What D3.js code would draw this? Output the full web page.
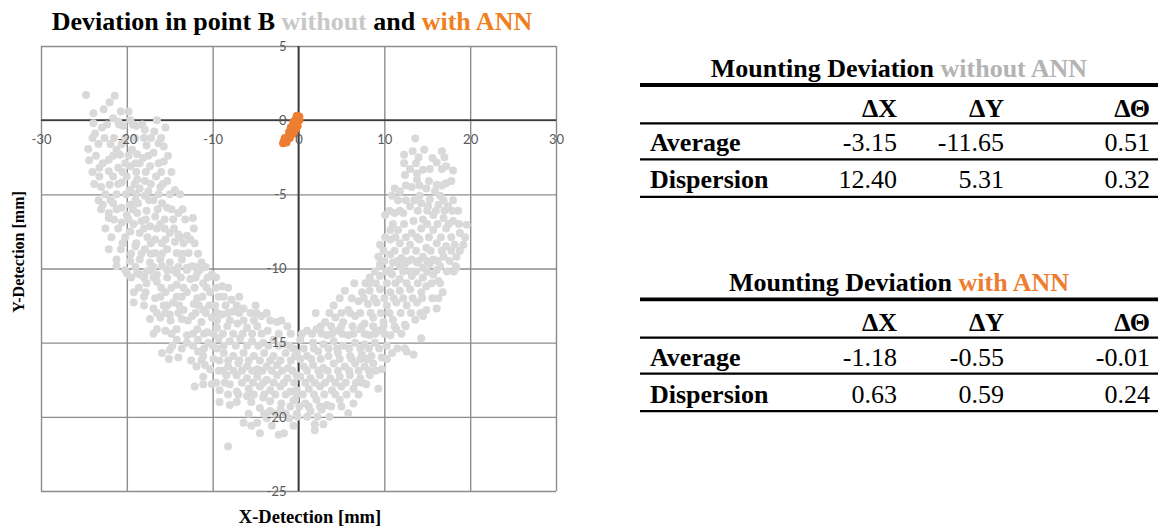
<!DOCTYPE html>
<html>
<head>
<meta charset="utf-8">
<script src="https://cdn.jsdelivr.net/npm/d3@7"></script>
<style>
  body { margin: 0; background: #fff; }
  svg { display: block; }
</style>
</head>
<body>
<svg id="chart" width="1158" height="530"></svg>
<script>
// Measured deviations in point B [mm], without the ANN correction
const withoutAnn = [
  [-24.75,1.7],[-21.4,1.64],[-22.0,1.2],[-23.9,0.47],[-22.7,0.74],[-20.7,0.58],[-19.8,0.58],[-21.6,0.13],
  [-21.0,-0.09],[-23.9,-0.2],[-22.9,-0.5],[-20.4,-0.4],[-19.6,0.0],[-16.5,0.0],[-18.9,-0.4],[-17.9,-0.65],
  [-16.8,-0.76],[-15.5,-0.5],[-23.7,-0.9],[-24.5,-1.95],[-21.2,-2.0],[-19.4,-2.0],[-17.7,-1.7],[-16.3,-1.55],
  [-15.7,-1.77],[-24.4,-2.7],[-22.1,-2.67],[-20.8,-2.33],[-18.8,-2.3],[-18.1,-2.55],[-16.9,-2.2],[-23.2,-3.2],
  [-22.1,-3.45],[-21.0,-3.2],[-19.6,-3.1],[-18.5,-2.9],[-17.3,-3.1],[-16.3,-2.9],[-15.7,-2.78],[-23.2,-3.8],
  [-21.6,-3.8],[-20.0,-3.8],[-18.8,-4.0],[-17.9,-4.1],[-16.6,-3.8],[-15.3,-4.1],[-23.0,-4.5],[-22.0,-4.35],
  [-20.6,-4.2],[-19.6,-4.7],[-18.5,-4.6],[-17.5,-4.8],[-16.1,-4.5],[-14.4,-4.7],[-22.8,-5.7],[-21.6,-5.6],
  [-20.6,-5.9],[-19.6,-5.7],[-18.7,-5.6],[-17.9,-5.1],[-16.9,-5.4],[-15.9,-5.6],[-15.3,-5.9],[-22.1,-6.25],
  [-20.0,-6.4],[-18.8,-6.25],[-17.7,-6.1],[-16.7,-6.5],[-14.0,-6.25],[-12.3,-6.6],[-22.1,-6.6],[-20.6,-6.9],
  [-19.2,-7.0],[-18.3,-6.8],[-17.3,-7.15],[-16.1,-7.0],[-15.0,-7.6],[-14.0,-7.7],[-13.0,-7.8],[-12.6,-8.05],
  [-19.6,-7.5],[-18.5,-7.6],[-16.7,-8.05],[-15.5,-8.05],[-14.4,-8.2],[-13.4,-8.3],[-22.1,-8.7],[-20.7,-8.7],
  [-19.0,-8.5],[-17.9,-8.7],[-16.7,-8.95],[-15.3,-8.7],[-14.2,-8.95],[-12.8,-8.95],[-21.2,-9.4],[-19.6,-9.5],
  [-18.5,-9.4],[-17.3,-9.6],[-16.1,-9.4],[-15.0,-9.6],[-13.6,-9.4],[-12.4,-9.85],[-11.3,-9.6],[-20.2,-10.1],
  [-18.8,-10.3],[-17.7,-10.2],[-16.5,-10.4],[-15.3,-10.1],[-14.2,-10.3],[-13.0,-10.1],[-11.8,-10.3],[-10.1,-10.4],
  [-21.2,-9.85],[-20.0,-10.3],[-18.5,-10.4],[-17.3,-10.1],[-15.9,-9.85],[-14.6,-10.1],[-13.0,-9.95],[-11.5,-10.1],
  [-10.1,-10.5],[-17.7,-11.0],[-16.5,-10.9],[-15.3,-10.6],[-14.2,-11.1],[-12.6,-10.7],[-11.1,-11.0],[-19.2,-11.6],
  [-19.2,-12.3],[-17.8,-11.6],[-16.7,-12.0],[-15.5,-11.6],[-14.2,-11.9],[-13.0,-11.6],[-11.8,-12.0],[-10.3,-11.6],
  [-8.9,-11.2],[-8.7,-11.9],[-7.8,-12.1],[-16.9,-12.7],[-15.7,-12.5],[-14.6,-12.3],[-13.4,-12.8],[-12.2,-12.4],
  [-11.1,-12.8],[-9.7,-12.5],[-17.3,-13.4],[-16.1,-13.3],[-15.0,-13.1],[-13.6,-13.4],[-12.4,-13.2],[-11.3,-13.6],
  [-10.1,-13.3],[-8.9,-13.1],[-7.6,-12.9],[-6.4,-12.7],[-5.6,-13.0],[-4.3,-13.2],[-3.7,-13.0],[-2.5,-13.6],
  [-1.3,-13.9],[-16.5,-14.1],[-15.5,-14.2],[-14.2,-14.1],[-13.0,-14.5],[-11.8,-14.1],[-10.6,-14.3],[-9.5,-14.0],
  [-8.3,-13.9],[-7.1,-13.7],[-6.0,-14.0],[-4.8,-13.9],[-3.6,-14.2],[-14.2,-14.8],[-13.0,-15.0],[-11.7,-14.8],
  [-10.5,-15.0],[-9.3,-14.7],[-8.0,-14.9],[-6.8,-14.7],[-5.4,-14.9],[-4.1,-15.0],[-2.9,-14.8],[-1.7,-15.1],
  [-0.6,-15.4],[-15.9,-15.7],[-15.0,-15.5],[-15.1,-16.1],[-14.0,-16.0],[-11.7,-15.6],[-11.1,-15.9],[-9.9,-16.1],
  [-8.7,-15.7],[-7.6,-15.9],[-6.4,-15.7],[-5.2,-15.9],[-4.0,-15.7],[-2.9,-15.9],[-1.5,-15.7],[-0.4,-15.9],
  [-11.9,-16.6],[-10.9,-16.5],[-10.3,-16.8],[-8.2,-16.6],[-7.0,-16.4],[-6.0,-16.6],[-4.8,-16.8],[-3.7,-16.6],
  [-2.5,-16.5],[-1.2,-16.7],[-11.1,-17.3],[-8.4,-17.2],[-7.2,-17.2],[-6.0,-17.4],[-4.8,-17.3],[-3.7,-17.5],
  [-2.5,-17.2],[-1.3,-17.4],[-0.2,-17.2],[-12.1,-17.95],[-11.1,-17.8],[-10.1,-17.8],[-9.2,-18.2],[-8.0,-17.8],
  [-7.2,-18.3],[-5.8,-18.1],[-4.5,-17.95],[-3.3,-18.2],[-2.1,-17.95],[-0.95,-18.3],[-8.2,-18.5],[-8.0,-19.2],
  [-6.0,-18.6],[-4.1,-18.7],[-3.3,-18.95],[-2.0,-19.1],[-0.6,-18.9],[-4.5,-19.4],[-3.3,-19.6],[-2.1,-19.5],
  [-0.95,-19.3],[-3.7,-20.1],[-6.4,-20.4],[-4.8,-20.4],[-1.1,-20.1],[-4.5,-21.1],[-2.3,-21.2],[-1.7,-21.1],
  [-8.2,-22.0],
  [13.6,-1.23],[12.3,-2.33],[13.3,-2.1],[14.65,-2.0],[16.7,-2.1],[12.3,-2.9],[13.7,-2.9],[15.6,-2.55],
  [16.1,-2.85],[17.2,-3.1],[18.0,-3.4],[12.4,-3.7],[13.8,-3.6],[14.5,-3.35],[13.8,-4.0],[15.2,-4.1],
  [16.1,-4.35],[17.2,-4.25],[17.8,-4.1],[11.2,-4.6],[11.8,-4.8],[13.2,-4.5],[14.9,-4.6],[15.9,-4.8],
  [10.9,-5.1],[14.1,-5.1],[15.3,-5.35],[16.5,-5.1],[13.0,-5.8],[14.3,-5.6],[15.1,-5.8],[16.3,-5.7],
  [17.4,-5.8],[18.6,-6.1],[10.1,-6.4],[11.2,-6.25],[12.2,-6.25],[13.4,-6.8],[14.5,-6.7],[15.7,-6.4],
  [16.9,-6.6],[18.0,-6.8],[19.6,-7.05],[10.7,-7.4],[11.6,-7.4],[13.2,-7.6],[14.3,-7.3],[15.7,-7.4],
  [17.2,-7.3],[18.8,-7.6],[9.5,-8.4],[10.7,-8.05],[11.8,-8.3],[13.0,-8.4],[14.1,-8.05],[14.9,-8.6],
  [16.1,-8.3],[17.2,-8.5],[18.2,-8.4],[19.2,-8.4],[9.3,-9.2],[10.7,-9.05],[12.0,-9.3],[13.2,-9.4],
  [14.5,-9.2],[15.7,-9.4],[16.9,-9.2],[18.4,-9.2],[9.5,-9.85],[10.7,-10.1],[11.8,-9.85],[13.0,-10.2],
  [14.5,-9.95],[16.1,-10.1],[18.4,-9.95],[8.3,-10.6],
  [9.5,-9.7],[11.0,-9.6],[12.4,-9.7],[13.8,-9.6],[15.3,-9.7],[16.5,-9.85],[18.3,-9.85],[9.5,-10.5],
  [10.9,-10.4],[11.8,-10.7],[13.2,-10.5],[14.5,-10.6],[15.7,-10.4],[16.3,-10.85],[8.3,-10.97],[7.4,-11.6],
  [8.3,-11.5],[9.5,-11.4],[10.7,-11.6],[11.8,-11.5],[13.0,-11.4],[14.3,-11.6],[14.9,-11.2],[16.8,-11.6],
  [5.4,-11.5],[4.1,-12.5],[5.8,-12.8],[7.0,-12.2],[8.1,-12.4],[9.1,-12.3],[10.3,-12.5],[11.4,-12.3],
  [12.6,-12.5],[13.8,-12.3],[14.9,-12.8],[16.1,-12.7],[3.1,-13.6],[4.3,-13.3],[5.2,-13.6],[6.6,-13.2],
  [7.7,-13.7],[8.7,-13.3],[9.9,-13.6],[11.0,-13.45],[12.4,-13.8],[13.6,-13.45],[14.5,-13.2],[1.0,-14.2],
  [2.1,-14.1],[3.3,-14.5],[4.6,-14.2],[5.8,-14.5],[7.2,-14.1],[8.3,-14.5],[9.3,-14.2],[10.7,-14.5],
  [11.4,-14.1],[14.3,-14.7],[0.2,-14.8],[1.7,-15.0],[2.9,-15.1],[4.1,-14.9],[5.2,-15.2],[6.6,-15.0],
  [7.7,-15.1],[8.9,-15.0],[10.3,-15.2],[12.4,-15.4],[13.4,-15.8],[12.6,-15.6],[-0.2,-15.7],[1.0,-15.9],
  [2.3,-15.6],[3.5,-15.9],[4.6,-15.7],[6.0,-15.9],[7.4,-15.8],[8.5,-15.9],[9.7,-16.0],[10.9,-15.7],
  [0.6,-16.6],[1.7,-16.5],[2.9,-16.7],[4.1,-16.4],[5.4,-16.6],[6.6,-16.4],[7.7,-16.6],[8.7,-16.4],
  [9.7,-16.8],[0.2,-17.3],[1.4,-17.4],[2.5,-17.2],[3.7,-17.4],[4.8,-17.3],[6.0,-17.2],[7.2,-17.4],
  [8.3,-17.2],[9.3,-18.1],[-0.2,-18.2],[1.2,-18.1],[2.5,-17.95],[3.9,-18.2],[5.0,-17.95],[6.4,-18.1],
  [7.9,-17.8],[-0.4,-18.85],[0.8,-19.1],[2.1,-18.85],[3.3,-19.2],[4.8,-18.85],[6.4,-19.1],[1.4,-19.6],
  [2.7,-19.5],[5.8,-19.75],[1.9,-20.5],[2.9,-20.5],[1.9,-20.9],
  // left arm, denser core
  [-22.3,-0.3],[-20.9,-0.3],[-19.3,-0.3],[-18.2,-0.3],
  [-24.0,-1.2],[-22.6,-1.2],[-21.5,-1.2],[-20.2,-1.2],[-19.0,-1.2],[-18.0,-1.2],[-17.2,-1.2],[-16.0,-1.2],
  [-23.3,-1.6],[-21.9,-1.6],[-20.6,-1.6],
  [-23.6,-2.4],[-21.6,-2.4],[-19.8,-2.4],[-17.5,-2.4],[-15.2,-2.4],
  [-22.8,-2.9],[-20.2,-2.9],[-19.0,-2.9],
  [-24.0,-3.5],[-20.5,-3.5],[-18.9,-3.5],[-17.8,-3.5],[-16.0,-3.5],[-14.8,-3.5],
  [-23.8,-4.3],[-21.0,-4.3],[-19.1,-4.3],[-17.2,-4.3],[-15.8,-4.3],
  [-22.5,-5.0],[-21.2,-5.0],[-20.1,-5.0],[-18.9,-5.0],[-16.3,-5.0],[-15.0,-5.0],[-13.8,-5.0],
  [-23.3,-5.4],[-21.9,-5.4],[-19.0,-5.4],[-17.4,-5.4],
  [-23.0,-6.0],[-21.2,-6.0],[-19.3,-6.0],[-16.4,-6.0],[-14.8,-6.0],[-13.5,-6.0],
  [-21.5,-6.7],[-19.8,-6.7],[-17.8,-6.7],[-15.6,-6.7],[-14.6,-6.7],[-13.2,-6.7],
  [-22.5,-7.3],[-21.0,-7.3],[-18.0,-7.3],[-16.5,-7.3],[-15.6,-7.3],[-14.5,-7.3],[-12.2,-7.3],
  [-21.8,-7.9],[-20.2,-7.9],[-17.6,-7.9],[-13.8,-7.9],
  [-20.5,-8.3],[-18.9,-8.3],[-17.2,-8.3],[-15.9,-8.3],[-12.1,-8.3],
  [-19.5,-9.0],[-18.3,-9.0],[-17.2,-9.0],[-15.9,-9.0],[-13.5,-9.0],[-11.7,-9.0],
  [-19.0,-9.9],[-16.9,-9.9],[-14.0,-9.9],[-12.0,-9.9],[-10.8,-9.9],
  [-19.5,-10.6],[-18.0,-10.6],[-16.9,-10.6],[-13.7,-10.6],[-12.0,-10.6],[-10.6,-10.6],[-9.6,-10.6],
  [-18.6,-11.3],[-16.0,-11.3],[-14.8,-11.3],[-13.4,-11.3],[-12.1,-11.3],[-10.7,-11.3],[-9.6,-11.3],[-8.2,-11.3],
  [-18.0,-11.9],[-16.1,-11.9],[-13.6,-11.9],[-11.2,-11.9],[-9.3,-11.9],[-6.9,-11.9],
  [-18.0,-12.5],[-15.3,-12.5],[-13.9,-12.5],[-11.6,-12.5],[-10.4,-12.5],[-8.5,-12.5],[-7.2,-12.5],[-5.0,-12.5],
  [-16.5,-13.0],[-15.5,-13.0],[-14.0,-13.0],[-12.0,-13.0],[-10.8,-13.0],[-9.5,-13.0],[-8.2,-13.0],[-6.9,-13.0],[-4.9,-13.0],
  [-14.9,-13.5],[-12.9,-13.5],[-9.5,-13.5],[-8.0,-13.5],[-6.4,-13.5],[-5.2,-13.5],[-3.3,-13.5],[-2.0,-13.5],
  [-16.9,-14.4],[-14.8,-14.4],[-12.3,-14.4],[-11.0,-14.4],[-9.9,-14.4],[-8.8,-14.4],[-7.6,-14.4],[-6.5,-14.4],
  [-5.4,-14.4],[-4.3,-14.4],[-2.3,-14.4],[-0.9,-14.4],
  [-14.7,-15.2],[-12.3,-15.2],[-10.0,-15.2],[-8.7,-15.2],[-7.3,-15.2],[-6.0,-15.2],[-4.7,-15.2],[-3.5,-15.2],
  [-2.3,-15.2],[-1.1,-15.2],[-13.6,-15.4],[-11.0,-15.4],[-9.5,-15.4],
  [-12.5,-16.2],[-11.3,-16.2],[-9.2,-16.2],[-8.2,-16.2],[-6.9,-16.2],[-5.8,-16.2],[-4.5,-16.2],[-3.3,-16.2],
  [-2.1,-16.2],[-0.9,-16.2],
  [-9.3,-16.9],[-8.8,-16.9],[-7.6,-16.9],[-6.6,-16.9],[-5.4,-16.9],[-4.2,-16.9],[-3.1,-16.9],[-1.9,-16.9],[-0.7,-16.9],
  [-9.6,-17.7],[-8.6,-17.7],[-6.6,-17.7],[-5.3,-17.7],[-4.1,-17.7],[-2.9,-17.7],[-1.7,-17.7],[-0.5,-17.7],
  [-7.0,-18.5],[-5.2,-18.5],[-4.0,-18.5],[-2.7,-18.5],[-1.5,-18.5],[-0.2,-18.5],
  [-9.2,-19.0],[-7.2,-19.0],[-5.5,-19.0],
  [-5.8,-19.8],[-4.0,-19.8],[-2.7,-19.8],[-1.5,-19.8],[-0.2,-19.8],
  [-5.5,-20.6],[-3.1,-20.6],[-0.6,-20.6],
  // bottom and right arm, denser core
  [0.4,-14.4],[1.6,-14.4],[2.7,-14.4],[3.9,-14.4],[5.1,-14.4],[6.4,-14.4],[7.7,-14.4],[8.9,-14.4],[10.0,-14.4],[12.0,-14.4],
  [0.6,-15.4],[1.8,-15.4],[3.5,-15.4],[4.5,-15.4],[5.9,-15.4],[7.2,-15.4],[8.2,-15.4],[9.4,-15.4],[11.5,-15.4],
  [0.2,-16.1],[1.5,-16.1],[2.6,-16.1],[4.8,-16.1],[6.2,-16.1],[7.2,-16.1],[8.0,-16.1],[10.3,-16.1],
  [1.0,-16.9],[2.3,-16.9],[3.4,-16.9],[4.6,-16.9],[5.9,-16.9],[7.0,-16.9],[8.2,-16.9],[9.0,-16.9],
  [0.8,-17.7],[1.9,-17.7],[3.1,-17.7],[4.3,-17.7],[5.5,-17.7],[6.7,-17.7],[7.4,-17.7],
  [0.5,-18.5],[1.8,-18.5],[3.0,-18.5],[4.3,-18.5],[5.6,-18.5],[7.0,-18.5],
  [0.1,-19.3],[1.2,-19.3],[2.5,-19.3],[3.8,-19.3],[5.0,-19.3],
  [-0.1,-20.0],[1.0,-20.0],[2.2,-20.0],[3.6,-20.0],
  [2.0,-13.0],[3.6,-13.0],[5.0,-13.0],[6.0,-13.0],[7.2,-13.0],[8.4,-13.0],[9.6,-13.0],[10.6,-13.0],[11.9,-13.0],[13.1,-13.0],[14.2,-13.0],
  [2.6,-13.9],[3.8,-13.9],[5.0,-13.9],[6.3,-13.9],[7.4,-13.9],[8.7,-13.9],[9.9,-13.9],[11.2,-13.9],[12.5,-13.9],
  [4.8,-12.0],[6.2,-12.0],[7.6,-12.0],[8.8,-12.0],[10.0,-12.0],[11.1,-12.0],[12.2,-12.0],[13.3,-12.0],[14.4,-12.0],[15.6,-12.0],[16.3,-12.0],
  [6.5,-11.0],[7.8,-11.0],[9.0,-11.0],[10.3,-11.0],[11.3,-11.0],[12.6,-11.0],[13.9,-11.0],[15.5,-11.0],[16.5,-11.0],
  [8.9,-10.2],[10.2,-10.2],[12.2,-10.2],[13.7,-10.2],[15.0,-10.2],[17.3,-10.2],[18.1,-10.2],
  [10.0,-9.5],[11.5,-9.5],[12.8,-9.5],[14.0,-9.5],[15.0,-9.5],[16.2,-9.5],[17.6,-9.5],
  [9.9,-8.8],[11.2,-8.8],[12.5,-8.8],[13.7,-8.8],[15.4,-8.8],[16.7,-8.8],[17.8,-8.8],[18.8,-8.8],
  [10.1,-7.9],[11.3,-7.9],[12.5,-7.9],[13.8,-7.9],[15.2,-7.9],[16.6,-7.9],[17.8,-7.9],[19.4,-7.9],
  [11.0,-7.0],[12.3,-7.0],[15.0,-7.0],[16.2,-7.0],[17.5,-7.0],[18.7,-7.0],
  [10.6,-6.1],[11.8,-6.1],[13.9,-6.1],[15.0,-6.1],[16.0,-6.1],[17.0,-6.1],[17.9,-6.1],
  [11.6,-5.4],[12.5,-5.4],[13.5,-5.4],[16.9,-5.4],[18.0,-5.4],
  [12.5,-4.4],[14.1,-4.4],[16.7,-4.4],
  [13.0,-3.3],[15.3,-3.3],[16.7,-3.3],
  [14.0,-2.5],[17.0,-2.5]
];

// Deviations in point B [mm] with the ANN correction
const withAnn = [
  [0.0,0.2],[-0.2,0.3],[0.1,0.0],[-0.3,0.1],[-0.4,-0.1],[-0.2,-0.2],[-0.5,-0.3],[-0.6,-0.1],
  [-0.7,-0.4],[-0.4,-0.5],[-0.8,-0.6],[-0.6,-0.7],[-0.9,-0.8],[-0.7,-0.9],[-1.0,-1.0],[-1.2,-1.1],
  [-1.0,-1.2],[-1.3,-1.3],[-1.5,-1.3],[-1.7,-1.4],[-1.4,-1.5],[-1.8,-1.55],[-0.1,-0.4],[-0.3,-0.6],
  [-0.5,-0.9],[-0.2,0.1],[0.1,0.25],[-0.9,-0.5],[-1.1,-0.8],[-1.6,-1.2]
];

const xTicks = [-30, -20, -10, 0, 10, 20, 30];
const yTicks = [5, 0, -5, -10, -15, -20, -25];

// Summary statistics shown in the two tables
const statColumns = ["ΔX", "ΔY", "ΔΘ"];
const statRows = ["Average", "Dispersion"];
const statsWithout = [[-3.15, -11.65, 0.51], [12.40, 5.31, 0.32]];
const statsWith = [[-1.18, -0.55, -0.01], [0.63, 0.59, 0.24]];

const GRAY = "#d9d9d9";
const ORANGE = "#ed7d31";
const SERIF = "'Liberation Serif', 'Times New Roman', serif";
const TICKFONT = "Lato, 'Liberation Sans', sans-serif";

const svg = d3.select("#chart");

const x = d3.scaleLinear().domain([-30, 30]).range([41, 556]);
const y = d3.scaleLinear().domain([-25, 5]).range([491, 46]);

// Title
const title = svg.append("text")
  .attr("x", 292).attr("y", 30)
  .attr("text-anchor", "middle")
  .style("font-family", SERIF).style("font-weight", "bold").style("font-size", "26px");
title.append("tspan").attr("fill", "#000").text("Deviation in point B ");
title.append("tspan").attr("fill", "#c8c8c8").text("without");
title.append("tspan").attr("fill", "#000").text(" and ");
title.append("tspan").attr("fill", "#f07f22").text("with ANN");

// Grid (outer frame coincides with the extreme ticks)
const grid = svg.append("g");
grid.append("g")
  .attr("transform", `translate(0,${y(-25)})`)
  .call(d3.axisBottom(x).tickValues(xTicks).tickSize(-(y(-25) - y(5))).tickFormat(""))
  .call(g => g.select(".domain").remove())
  .call(g => g.selectAll("line").attr("stroke", "#8c8c8c").attr("stroke-width", 1.4));
grid.append("g")
  .attr("transform", `translate(${x(-30)},0)`)
  .call(d3.axisLeft(y).tickValues(yTicks).tickSize(-(x(30) - x(-30))).tickFormat(""))
  .call(g => g.select(".domain").remove())
  .call(g => g.selectAll("line").attr("stroke", "#8c8c8c").attr("stroke-width", 1.4));

// Axes crossing at the origin
svg.append("line")
  .attr("x1", x(-30)).attr("x2", x(30)).attr("y1", y(0)).attr("y2", y(0))
  .attr("stroke", "#3c3c3c").attr("stroke-width", 1.8);
svg.append("line")
  .attr("x1", x(0)).attr("x2", x(0)).attr("y1", y(5)).attr("y2", y(-25))
  .attr("stroke", "#3c3c3c").attr("stroke-width", 1.8);

// Points
svg.append("g").selectAll("circle").data(withoutAnn).join("circle")
  .attr("cx", d => x(d[0])).attr("cy", d => y(d[1])).attr("r", 4).attr("fill", GRAY);
svg.append("g").selectAll("circle").data(withAnn).join("circle")
  .attr("cx", d => x(d[0])).attr("cy", d => y(d[1])).attr("r", 4).attr("fill", ORANGE);

// Tick labels (plain hyphen for negatives)
const plain = d => String(d);
svg.append("g")
  .attr("transform", `translate(0,${y(0)})`)
  .call(d3.axisBottom(x).tickValues(xTicks).tickSize(0).tickPadding(15).tickFormat(plain))
  .call(g => g.select(".domain").remove())
  .call(g => g.selectAll("text").attr("fill", "#595959").style("font-family", TICKFONT).style("font-size", "13px"));
svg.append("g")
  .attr("transform", `translate(${x(0)},0)`)
  .call(d3.axisLeft(y).tickValues(yTicks).tickSize(0).tickPadding(12).tickFormat(plain))
  .call(g => g.select(".domain").remove())
  .call(g => g.selectAll("text").attr("fill", "#595959").style("font-family", TICKFONT).style("font-size", "13px"));

// Axis titles
svg.append("text")
  .attr("x", 310).attr("y", 523)
  .attr("text-anchor", "middle")
  .style("font-family", SERIF).style("font-weight", "bold").style("font-size", "18.5px")
  .text("X-Detection [mm]");
svg.append("text")
  .attr("transform", "translate(24,252) rotate(-90)")
  .attr("text-anchor", "middle")
  .style("font-family", SERIF).style("font-weight", "bold").style("font-size", "16px")
  .text("Y-Detection [mm]");

// Statistics tables
function drawTable(top, label, labelColor, stats) {
  const g = svg.append("g").attr("transform", `translate(0,${top})`);
  const left = 640, right = 1158;
  const colRight = [897, 1004, 1150];
  const fs = "26px";

  const t = g.append("text").attr("x", 899).attr("y", -8)
    .attr("text-anchor", "middle")
    .style("font-family", SERIF).style("font-weight", "bold").style("font-size", fs);
  t.append("tspan").attr("fill", "#000").text("Mounting Deviation ");
  t.append("tspan").attr("fill", labelColor).text(label);

  const rules = [[0, 3.8], [38.3, 2.2], [74.3, 2.2], [111.8, 2.2]];
  g.selectAll("line.rule").data(rules).join("line")
    .attr("class", "rule")
    .attr("x1", left).attr("x2", right)
    .attr("y1", d => d[0]).attr("y2", d => d[0])
    .attr("stroke", "#000").attr("stroke-width", d => d[1]);

  g.selectAll("text.head").data(statColumns).join("text")
    .attr("class", "head")
    .attr("x", (d, i) => colRight[i]).attr("y", 31.6)
    .attr("text-anchor", "end")
    .style("font-family", SERIF).style("font-weight", "bold").style("font-size", fs)
    .text(d => d);

  const rowBase = [66.3, 103.3];
  statRows.forEach((r, ri) => {
    g.append("text")
      .attr("x", 650).attr("y", rowBase[ri])
      .style("font-family", SERIF).style("font-weight", "bold").style("font-size", fs)
      .text(r);
    g.selectAll(`text.v${ri}`).data(stats[ri]).join("text")
      .attr("class", `v${ri}`)
      .attr("x", (d, i) => colRight[i]).attr("y", rowBase[ri])
      .attr("text-anchor", "end")
      .style("font-family", SERIF).style("font-size", fs)
      .text(d => d.toFixed(2));
  });
}

drawTable(85, "without ANN", "#b3b3b3", statsWithout);
drawTable(299.3, "with ANN", ORANGE, statsWith);
</script>
</body>
</html>
